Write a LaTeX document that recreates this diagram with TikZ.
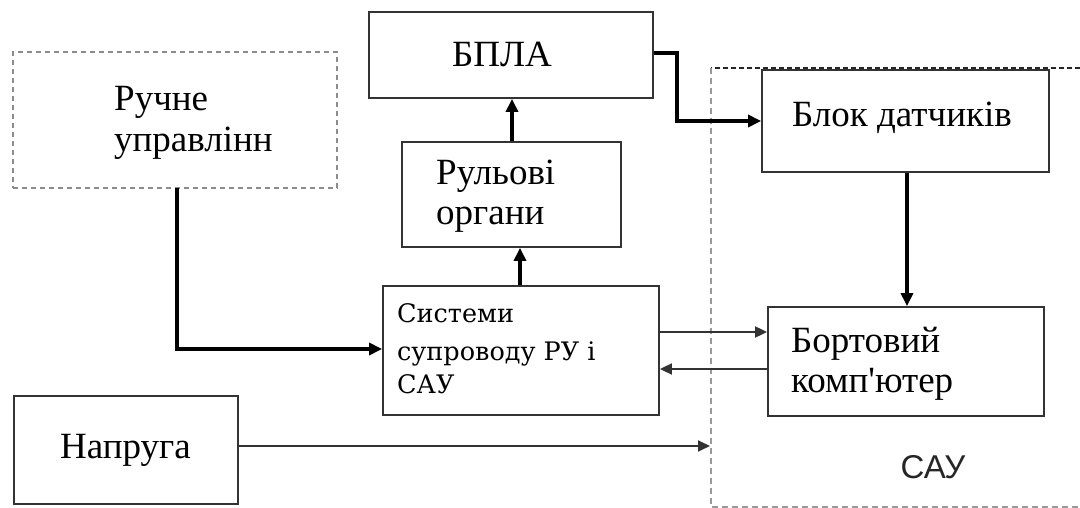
\documentclass[tikz,border=0pt]{standalone}
\usepackage{fontspec}
\setmainfont{Liberation Serif}
\newfontfamily\plainserif{Liberation Serif}
\newfontfamily\sysfont{DejaVu Serif}
\newfontfamily\saufont{Liberation Sans}
\usetikzlibrary{arrows.meta}
\newcommand{\mainsz}{\fontsize{37}{40}\selectfont}
\newcommand{\syssz}{\sysfont\fontsize{25.5}{30}\selectfont}
\tikzset{
  box/.style={draw=black!80, line width=1.8pt, inner sep=0pt},
  dbox/.style={draw=black!45, line width=1.6pt, dash pattern=on 5pt off 4pt, inner sep=0pt},
  txt/.style={inner sep=0pt, font=\mainsz},
  stxt/.style={inner sep=0pt, font=\syssz},
  thickarrow/.style={line width=3.8pt, -{Triangle[length=13pt,width=12pt]}},
  thinarrow/.style={line width=1.8pt, -{Triangle[length=12pt,width=11pt]}, color=black!80},
}
\begin{document}
\begin{tikzpicture}[x=1pt,y=-1pt]
\useasboundingbox (0,0) rectangle (1080,508);
% SAU region
\draw[black!85, line width=1.5pt, dash pattern=on 5pt off 3pt] (1080,68) -- (711,68);
\draw[black!40, line width=1.5pt, dash pattern=on 6pt off 4pt] (711,68) -- (711,507) -- (1080,507);
% boxes
\node[dbox, minimum width=324pt, minimum height=136pt] (ruch) at (175,120) {};
\node[box, minimum width=284pt, minimum height=86pt] (bpla) at (511,55) {};
\node[box, minimum width=219pt, minimum height=105pt] (rul) at (511.5,194.5) {};
\node[box, minimum width=276pt, minimum height=129pt] (sys) at (521,350.5) {};
\node[box, minimum width=287pt, minimum height=102pt] (blok) at (905.5,121) {};
\node[box, minimum width=276pt, minimum height=109pt] (bort) at (906,361.5) {};
\node[box, minimum width=224pt, minimum height=108pt] (napr) at (126,450) {};
% texts
\node[txt, anchor=base west] (t1) at (114,111) {Ручне};
\node[txt, anchor=base west] (t2) at (114,152) {управлінн};
\node[txt, anchor=base] (t3) at (502,67) {БПЛА};
\node[txt, anchor=base west] (t4) at (436,185) {Рульові};
\node[txt, anchor=base west] (t5) at (436,225) {органи};
\node[stxt, anchor=base west] (t6) at (397,322) {Системи};
\node[stxt, anchor=base west] (t7) at (397,360) {супроводу РУ і};
\node[stxt, anchor=base west] (t8) at (397,393) {САУ};
\node[txt, anchor=base] (t9) at (902,127) {Блок датчиків};
\node[txt, anchor=base west] (t10) at (791,352) {Бортовий};
\node[txt, anchor=base west] (t11) at (791,392) {\plainserif комп'ютер};
\node[txt, anchor=base] (t12) at (125.5,458) {Напруга};
\node[inner sep=0pt, anchor=base, font=\saufont\fontsize{33}{36}\selectfont, text=black!85] (t13) at (933,478) {САУ};
% connectors
\coordinate (ruchout) at (177,188);
\draw[thickarrow] (ruchout) |- (sys.west |- 0,349);
\draw[thickarrow] (rul.north -| 512,0) -- (bpla.south -| 512,0);
\draw[thickarrow] (sys.north -| 520,0) -- (rul.south -| 520,0);
\draw[thickarrow] (bpla.east |- 0,53) -- (677,53) -- (677,121) -- (blok.west);
\draw[thickarrow] (blok.south -| 907,0) -- (bort.north -| 907,0);
\draw[thinarrow] (sys.east |- 0,332) -- (bort.west |- 0,332);
\draw[thinarrow] (bort.west |- 0,369) -- (sys.east |- 0,369);
\coordinate (sauin) at (710,446);
\draw[thinarrow] (napr.east |- 0,446) -- (sauin);
\end{tikzpicture}
\end{document}
